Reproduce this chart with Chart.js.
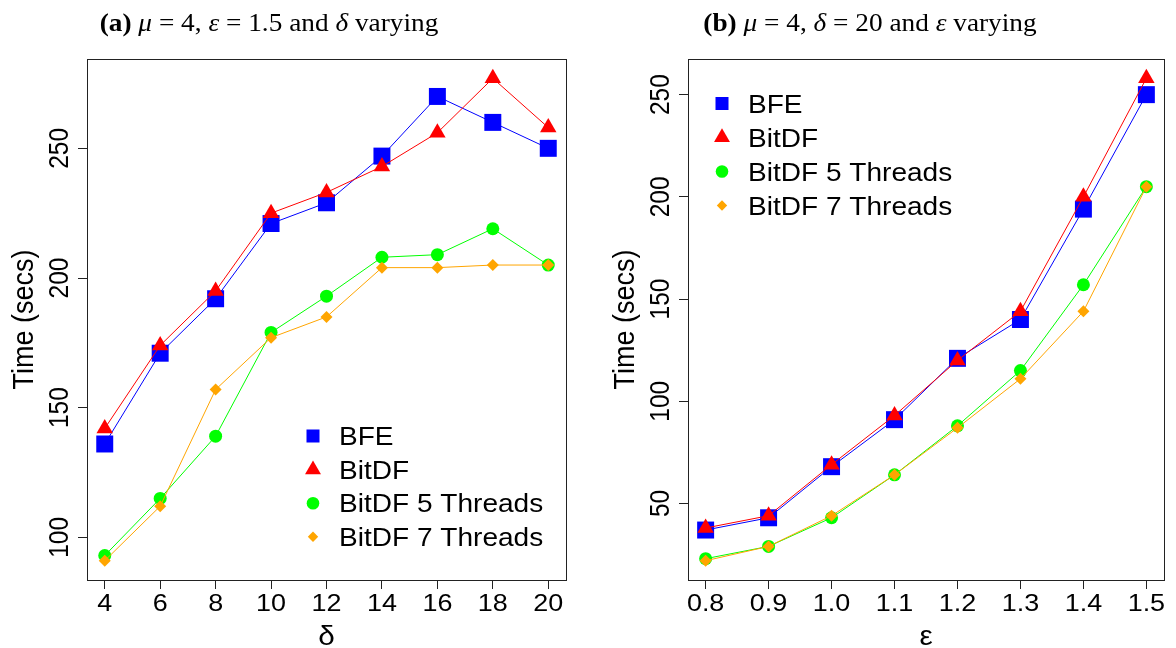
<!DOCTYPE html>
<html>
<head>
<meta charset="utf-8">
<script src="https://cdn.jsdelivr.net/npm/chart.js@4.4.1/dist/chart.umd.min.js"></script>
<style>
body { margin: 0; background: #fff; }
#wrap { position: relative; width: 1176px; height: 648px; }
canvas { position: absolute; top: 0; }
</style>
</head>
<body>
<div id="wrap">
<canvas id="deltaChart" width="588" height="648" style="left:0"></canvas>
<canvas id="epsChart" width="588" height="648" style="left:588px"></canvas>
</div>

<script>
// (a) mu = 4, eps = 1.5, delta varying
var deltas = [4, 6, 8, 10, 12, 14, 16, 18, 20];
var bfeDelta = [136, 171, 192, 221, 229, 247, 270, 260, 250];
var bitdfDelta = [142, 174, 195, 225, 233, 243, 256, 277, 258];
var threads5Delta = [93, 115, 139, 179, 193, 208, 209, 219, 205];
var threads7Delta = [91, 112, 157, 177, 185, 204, 204, 205, 205];
var deltaYTicks = [100, 150, 200, 250];

// (b) mu = 4, delta = 20, eps varying
var epsilons = [0.8, 0.9, 1.0, 1.1, 1.2, 1.3, 1.4, 1.5];
var bfeEps = [37, 43, 68, 91, 121, 140, 194, 250];
var bitdfEps = [38, 44, 69, 93, 120, 144, 200, 258];
var threads5Eps = [23, 29, 43, 64, 88, 115, 157, 205];
var threads7Eps = [22, 29, 44, 64, 87, 111, 144, 205];
var epsYTicks = [50, 100, 150, 200, 250];

var seriesNames = ['BFE', 'BitDF', 'BitDF 5 Threads', 'BitDF 7 Threads'];

// marker look for each series: plot radius, legend radius
var seriesStyle = [
	{ color: '#0000ff', point: 'rect', r: 12, lr: 9.2 },
	{ color: '#ff0000', point: 'triangle', r: 9.5, lr: 9.2 },
	{ color: '#00ff00', point: 'circle', r: 6.5, lr: 6.3 },
	{ color: '#ffa500', point: 'rectRot', r: 6, lr: 5.2 }
];

var SANS = "'Liberation Sans', Arial, sans-serif";
var SERIF = "'Liberation Serif', 'Times New Roman', serif";
var WIDEN = 1.1; // glyphs are a bit wider than tall

// R-like axis range: 4% beyond the data on each side
function rRange(values)
{
	var lo = Math.min.apply(null, values);
	var hi = Math.max.apply(null, values);
	var pad = (hi - lo) * 0.04;
	return { min: lo - pad, max: hi + pad };
}

function wideText(ctx, text, x, y, rot, sx)
{
	ctx.save();
	ctx.translate(x, y);
	ctx.scale(sx, 1);
	if (rot) ctx.rotate(rot);
	ctx.fillText(text, 0, 0);
	ctx.restore();
}

// box, rotated tick labels, axis titles, legend and caption
var rDecor = {
	id: 'rDecor',
	afterDraw: function(chart, args, o) {
		var ctx = chart.ctx;
		var a = chart.chartArea;
		var xs = chart.scales.x, ys = chart.scales.y;
		ctx.save();

		ctx.strokeStyle = '#222';
		ctx.lineWidth = 1;
		ctx.strokeRect(Math.round(a.left) + 0.5, Math.round(a.top) + 0.5,
			Math.round(a.right - a.left), Math.round(a.bottom - a.top));

		ctx.fillStyle = '#000';
		ctx.textAlign = 'center';
		ctx.textBaseline = 'alphabetic';

		ctx.font = '24.5px ' + SANS;
		xs.ticks.forEach(function(t) {
			wideText(ctx, o.xFormat(t.value), xs.getPixelForValue(t.value), a.bottom + 31, 0, WIDEN);
		});
		ys.ticks.forEach(function(t) {
			wideText(ctx, String(t.value), a.left - 19.5, ys.getPixelForValue(t.value), -Math.PI / 2, WIDEN);
		});

		ctx.font = '27px ' + SANS;
		wideText(ctx, o.xTitle, (a.left + a.right) / 2, a.bottom + 65, 0, WIDEN);
		wideText(ctx, 'Time (secs)', a.left - 54, (a.top + a.bottom) / 2, -Math.PI / 2, WIDEN);

		// legend
		ctx.textAlign = 'left';
		ctx.font = '25.5px ' + SANS;
		chart.data.datasets.forEach(function(ds, i) {
			var st = seriesStyle[i];
			var y = o.legend.y + i * o.legend.gap;
			ctx.fillStyle = st.color;
			Chart.helpers.drawPoint(ctx, { pointStyle: st.point, radius: st.lr, rotation: 0, borderWidth: 0 },
				o.legend.x, y);
			ctx.fillStyle = '#000';
			wideText(ctx, ds.label, o.legend.x + 26, y + 9, 0, WIDEN);
		});

		// caption made of mixed font pieces
		var sx = 1.05;
		var parts = o.caption;
		var total = 0;
		parts.forEach(function(p) {
			ctx.font = p[1] + ' 26px ' + SERIF;
			total += ctx.measureText(p[0]).width * sx;
		});
		var x = o.captionX - total / 2;
		parts.forEach(function(p) {
			ctx.font = p[1] + ' 26px ' + SERIF;
			wideText(ctx, p[0], x, 31, 0, sx);
			x += ctx.measureText(p[0]).width * sx;
		});

		ctx.restore();
	}
};

function makeChart(canvasId, xValues, series, yTicks, cfg)
{
	var xr = rRange(xValues);
	var yr = rRange([].concat.apply([], series));

	var datasets = series.map(function(vals, i) {
		var st = seriesStyle[i];
		return {
			label: seriesNames[i],
			data: xValues.map(function(x, k) { return { x: x, y: vals[k] }; }),
			borderColor: st.color,
			backgroundColor: st.color,
			borderWidth: 1,
			pointStyle: st.point,
			pointRadius: st.r,
			pointBorderWidth: 0,
			pointBackgroundColor: st.color,
			order: series.length - i
		};
	});

	var tickGrid = { drawOnChartArea: false, drawTicks: true, tickLength: 9, color: '#222', lineWidth: 1 };

	return new Chart(canvasId, {
		type: 'line',
		data: { datasets: datasets },
		options: {
			responsive: false,
			animation: false,
			devicePixelRatio: 1,
			layout: { padding: { top: 59, right: cfg.padRight, bottom: 0, left: 0 } },
			scales: {
				x: {
					type: 'linear',
					min: xr.min,
					max: xr.max,
					afterBuildTicks: function(s) { s.ticks = xValues.map(function(v) { return { value: v }; }); },
					afterFit: function(s) { s.height = 68; },
					ticks: { display: false },
					grid: tickGrid,
					border: { display: false }
				},
				y: {
					type: 'linear',
					min: yr.min,
					max: yr.max,
					afterBuildTicks: function(s) { s.ticks = yTicks.map(function(v) { return { value: v }; }); },
					afterFit: function(s) { s.width = cfg.yWidth; },
					ticks: { display: false },
					grid: tickGrid,
					border: { display: false }
				}
			},
			plugins: {
				legend: { display: false },
				tooltip: { enabled: false },
				rDecor: cfg.decor
			}
		},
		plugins: [rDecor]
	});
}

makeChart('deltaChart', deltas, [bfeDelta, bitdfDelta, threads5Delta, threads7Delta], deltaYTicks, {
	padRight: 22,
	yWidth: 87,
	decor: {
		xTitle: 'δ',
		xFormat: function(v) { return String(v); },
		legend: { x: 313, y: 436, gap: 33.6 },
		captionX: 269,
		caption: [['(a)', 'bold'], [' ', ''], ['μ', 'italic'], [' = 4, ', ''], ['ε', 'italic'],
			[' = 1.5 and ', ''], ['δ', 'italic'], [' varying', '']]
	}
});

makeChart('epsChart', epsilons, [bfeEps, bitdfEps, threads5Eps, threads7Eps], epsYTicks, {
	padRight: 9,
	yWidth: 100,
	decor: {
		xTitle: 'ε',
		xFormat: function(v) { return v.toFixed(1); },
		legend: { x: 134, y: 103.5, gap: 34 },
		captionX: 282,
		caption: [['(b)', 'bold'], [' ', ''], ['μ', 'italic'], [' = 4, ', ''], ['δ', 'italic'],
			[' = 20 and ', ''], ['ε', 'italic'], [' varying', '']]
	}
});
</script>
</body>
</html>
